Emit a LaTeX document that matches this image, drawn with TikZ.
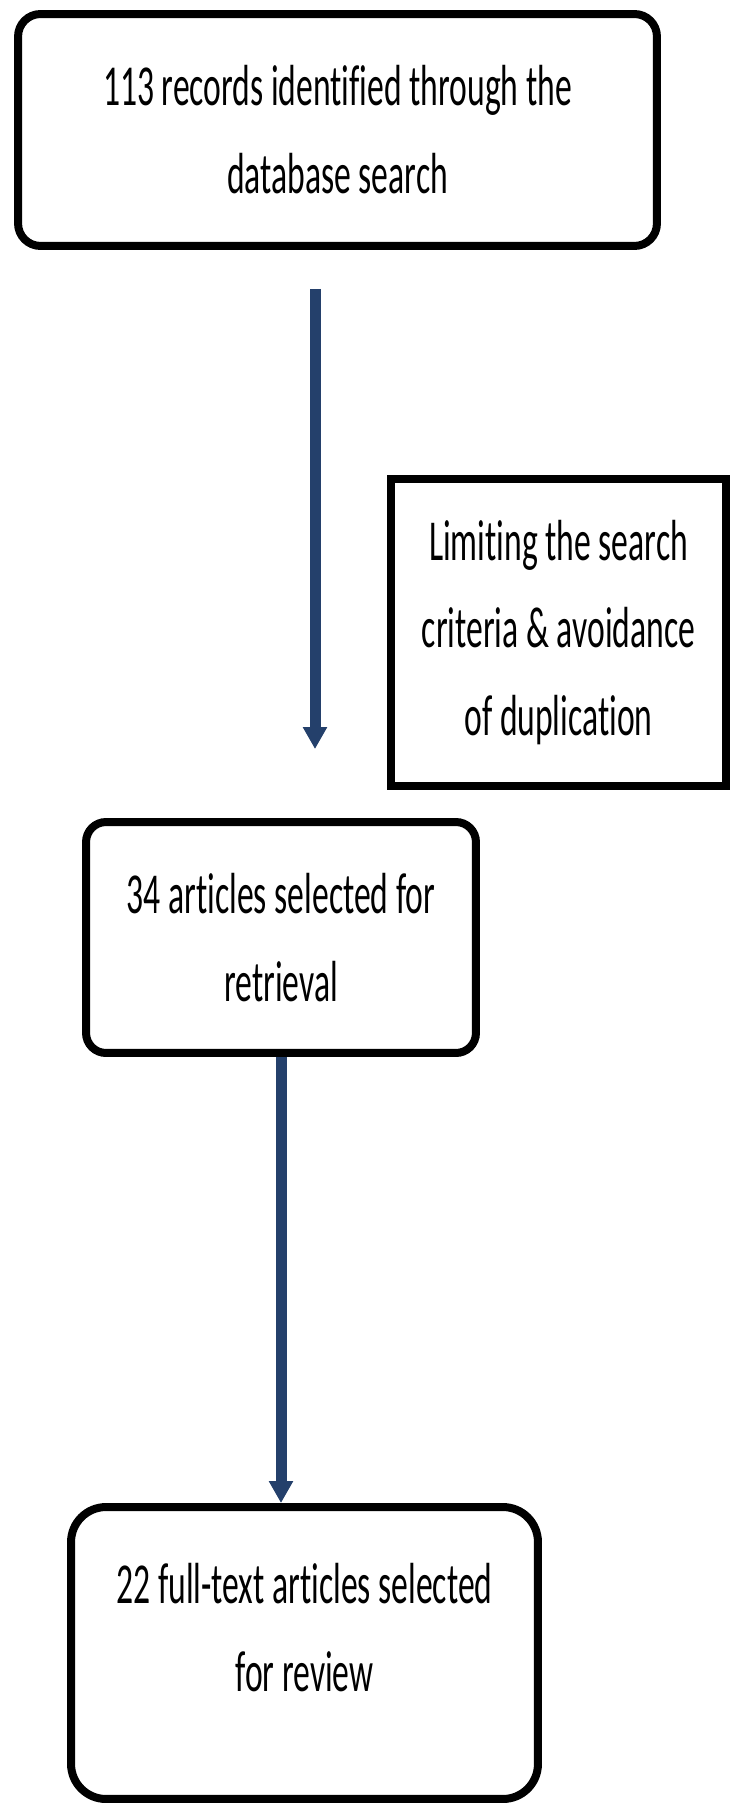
\documentclass[tikz,border=0pt]{standalone}
\usepackage{fontspec}
\setmainfont{Carlito}[FakeStretch=0.58, Ligatures=NoCommon]
\usepackage{tikz}
\usetikzlibrary{arrows.meta}
\definecolor{arrowblue}{RGB}{36,64,107}
\tikzstyle{roundbox} = [draw, line width=0.16cm, rounded corners=0.45cm, align=center, font=\fontsize{33}{50}\selectfont]
\tikzstyle{sharpbox} = [draw, line width=0.16cm, align=center, font=\fontsize{33}{50}\selectfont]
\tikzstyle{flowarrow} = [draw=arrowblue, line width=0.22cm, -{Triangle[width=0.46cm,length=0.44cm]}]

\begin{document}
\begin{tikzpicture}[x=0.02cm, y=-0.02cm]

        \useasboundingbox (0,0) rectangle (733,1807);

        % Records found in the database search
        \node[roundbox, minimum width=12.78cm, minimum height=4.64cm] (records) at (337.5,130)
            {113 records identified through the\\database search};

        % Side note on the screening step
        \node[sharpbox, minimum width=6.70cm, minimum height=6.14cm] (limits) at (558.5,632.5)
            {Limiting the search\\criteria \& avoidance\\of duplication};

        % Articles kept for retrieval
        \node[roundbox, minimum width=7.80cm, minimum height=4.62cm, rounded corners=0.4cm] (retrieval) at (281,937.5)
            {34 articles selected for\\retrieval};

        % Full-text articles kept for review
        \node[roundbox, minimum width=9.34cm, minimum height=5.84cm, rounded corners=0.7cm] (review) at (304.5,1653)
            {22 full-text articles selected\\for review\\[-21pt]\mbox{}};

        % Arrows between the steps
        \coordinate (searchout) at ([xshift=-0.45cm, yshift=-0.78cm]records.south);
        \draw[flowarrow] (searchout) -- ([yshift=1.38cm]searchout |- retrieval.north);   % records -> retrieval
        \draw[flowarrow] (retrieval.south) -- (retrieval.south |- review.north);        % retrieval -> review

\end{tikzpicture}
\end{document}
